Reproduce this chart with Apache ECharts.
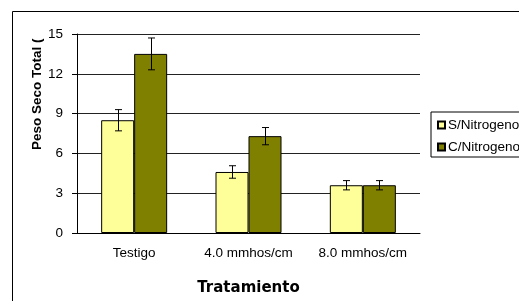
<!DOCTYPE html>
<html>
<head>
<meta charset="utf-8">
<script src="https://cdn.jsdelivr.net/npm/echarts@6/dist/echarts.min.js"></script>
<style>
  html, body { margin: 0; padding: 0; background: #fff; }
  #chart { width: 519px; height: 301px; }
</style>
</head>
<body>
<div id="chart"></div>
<script>
// datos
var tratamientos = ['Testigo', '4.0 mmhos/cm', '8.0 mmhos/cm'];
var sinNitrogeno = [8.5, 4.6, 3.6];
var conNitrogeno = [13.5, 7.3, 3.6];
var errSin = [0.8, 0.47, 0.35];
var errCon = [1.2, 0.65, 0.35];
var yTicks = [0, 3, 6, 9, 12, 15];

var barW = 33;
var fuente = 'Liberation Sans, Arial, sans-serif';

// barras de error (custom)
function errorData(vals, errs) {
	return vals.map(function(v, i) {
		return [i, v - errs[i], v + errs[i]];
	});
}
function errorSeries(vals, errs, offset) {
	return {
		type : 'custom',
		silent : true,
		z : 5,
		data : errorData(vals, errs),
		renderItem : function(params, api) {
			var lo = api.coord([api.value(0), api.value(1)]);
			var hi = api.coord([api.value(0), api.value(2)]);
			var x = Math.round(lo[0] + offset) + 0.5;
			var cap = 3.5;
			var st = { stroke : '#000', lineWidth : 1 };
			return {
				type : 'group',
				children : [
					{ type : 'line', shape : { x1 : x, y1 : hi[1], x2 : x, y2 : lo[1] }, style : st },
					{ type : 'line', shape : { x1 : x - cap, y1 : hi[1], x2 : x + cap, y2 : hi[1] }, style : st },
					{ type : 'line', shape : { x1 : x - cap, y1 : lo[1], x2 : x + cap, y2 : lo[1] }, style : st }
				]
			};
		}
	};
}

var chart = echarts.init(document.getElementById('chart'));
chart.setOption({
	animation : false,
	backgroundColor : '#fff',
	textStyle : { fontFamily : fuente },
	grid : { left : 77, right : 99, top : 34, bottom : 63 },
	legend : {
		orient : 'vertical',
		left : 431,
		top : 112,
		padding : [6, 6, 3, 6],
		itemGap : 8,
		itemWidth : 7,
		itemHeight : 7,
		icon : 'rect',
		borderColor : '#000',
		borderWidth : 1,
		textStyle : { color : '#000', fontSize : 13.5, fontFamily : fuente, padding : [0, 0, 0, -2] },
		data : ['S/Nitrogeno', 'C/Nitrogeno']
	},
	xAxis : {
		type : 'category',
		data : tratamientos,
		name : 'Tratamiento',
		nameLocation : 'middle',
		nameGap : 48,
		nameTextStyle : { fontSize : 15, fontWeight : 'bold', color : '#000', fontFamily : 'DejaVu Sans, sans-serif' },
		axisLine : { lineStyle : { color : '#000', width : 1 } },
		axisTick : { length : 4, lineStyle : { color : '#000' } },
		axisLabel : { color : '#000', fontSize : 13.5, margin : 13, interval : 0, hideOverlap : false }
	},
	yAxis : {
		type : 'value',
		min : yTicks[0],
		max : yTicks[yTicks.length - 1],
		interval : 3,
		axisLine : { show : true, lineStyle : { color : '#000', width : 1 } },
		axisTick : { show : true, length : 5, lineStyle : { color : '#000' } },
		axisLabel : { color : '#000', fontSize : 13.5, margin : 14 },
		splitLine : { lineStyle : { color : '#222', width : 1 } }
	},
	graphic : [
		{
			type : 'rect',
			shape : { x : 12.5, y : 11.5, width : 700, height : 400 },
			style : { fill : 'none', stroke : '#000', lineWidth : 1 },
			silent : true
		},
		{
			type : 'text',
			x : 37,
			y : 150,
			rotation : Math.PI / 2,
			style : {
				text : 'Peso Seco Total (g)',
				fill : '#000',
				font : 'bold 13.5px ' + fuente,
				align : 'left',
				verticalAlign : 'middle',
				width : 119,
				overflow : 'truncate',
				ellipsis : ''
			},
			silent : true
		}
	],
	series : [
		{
			name : 'S/Nitrogeno',
			type : 'bar',
			data : sinNitrogeno,
			barWidth : barW,
			barGap : '0%',
			itemStyle : { color : '#FFFF99', borderColor : '#000', borderWidth : 1 }
		},
		{
			name : 'C/Nitrogeno',
			type : 'bar',
			data : conNitrogeno,
			barWidth : barW,
			itemStyle : { color : '#808000', borderColor : '#000', borderWidth : 1 }
		},
		errorSeries(sinNitrogeno, errSin, -barW / 2),
		errorSeries(conNitrogeno, errCon, barW / 2)
	]
});
</script>
</body>
</html>
